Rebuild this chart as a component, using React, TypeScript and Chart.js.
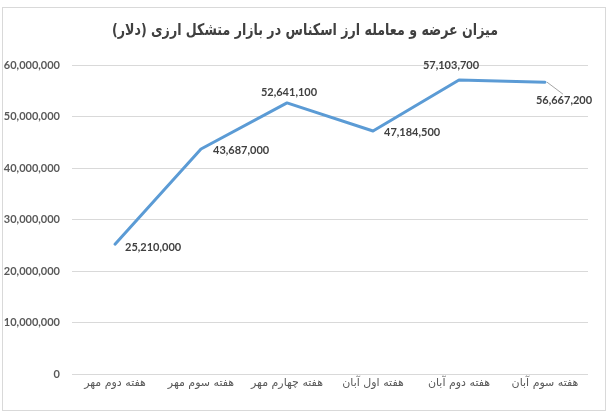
import React, { useEffect, useRef } from "react";
import { Chart, registerables } from "chart.js";

Chart.register(...registerables);

const titleText = "میزان عرضه و معامله ارز اسکناس در بازار متشکل ارزی (دلار)";
const categories = [
  "هفته دوم مهر",
  "هفته سوم مهر",
  "هفته چهارم مهر",
  "هفته اول آبان",
  "هفته دوم آبان",
  "هفته سوم آبان",
];
const values = [25210000, 43687000, 52641100, 47184500, 57103700, 56667200];
const yTicks = [0, 10000000, 20000000, 30000000, 40000000, 50000000, 60000000];

// label placement (style): dx, dy offsets from point, alignment, leader line
const labelPlacement = [
  { dx: 10, dy: 3, align: "left", leader: false },
  { dx: 12, dy: 1, align: "left", leader: false },
  { dx: 2, dy: -10, align: "center", leader: false },
  { dx: 11, dy: 1, align: "left", leader: false },
  { dx: -8, dy: -14, align: "center", leader: false },
  { dx: 19, dy: 18, align: "center", leader: true },
];

const fmt = (v: number) => v.toLocaleString("en-US");
const numFont = "Lato, 'Open Sans', sans-serif";
const faFont = "'DejaVu Sans', sans-serif";

const decor = {
  id: "decor",
  beforeDraw(chart: any) {
    const { ctx } = chart;
    ctx.save();
    ctx.fillStyle = "#ffffff";
    ctx.fillRect(0, 0, chart.width, chart.height);
    ctx.strokeStyle = "#d9d9d9";
    ctx.lineWidth = 1;
    ctx.strokeRect(2.5, 7.5, 603, 403);
    ctx.fillStyle = "#404040";
    ctx.font = `bold 16px ${faFont}`;
    ctx.textAlign = "center";
    ctx.textBaseline = "middle";
    ctx.direction = "rtl";
    ctx.fillText(titleText, 305, 31, 386);
    ctx.restore();
  },
  afterDatasetsDraw(chart: any) {
    const { ctx } = chart;
    const meta = chart.getDatasetMeta(0);
    ctx.save();
    ctx.font = `bold 11px ${numFont}`;
    ctx.fillStyle = "#404040";
    ctx.textBaseline = "middle";
    meta.data.forEach((pt: any, i: number) => {
      const p = labelPlacement[i];
      const x = pt.x + p.dx;
      const y = pt.y + p.dy;
      if (p.leader) {
        ctx.strokeStyle = "#a6a6a6";
        ctx.lineWidth = 1;
        ctx.beginPath();
        ctx.moveTo(pt.x + 2, pt.y);
        ctx.lineTo(pt.x + 18, pt.y + 12);
        ctx.stroke();
      }
      ctx.textAlign = p.align;
      ctx.fillText(fmt(values[i]), x, y);
    });
    ctx.restore();
  },
};

export default function App() {
  const ref = useRef<HTMLCanvasElement>(null);
  useEffect(() => {
    if (!ref.current) return;
    const chart = new Chart(ref.current, {
      type: "line",
      data: {
        labels: categories,
        datasets: [
          {
            data: values,
            borderColor: "#5B9BD5",
            borderWidth: 3,
            pointRadius: 0,
            tension: 0,
            borderCapStyle: "round",
            borderJoinStyle: "round",
          },
        ],
      },
      options: {
        animation: false,
        responsive: false,
        devicePixelRatio: 1,
        layout: { padding: { top: 65, right: 21, bottom: 0, left: 0 } },
        plugins: {
          legend: { display: false },
          title: { display: false },
          tooltip: { enabled: false },
        },
        scales: {
          x: {
            offset: true,
            grid: { display: false, drawTicks: false },
            border: { display: false },
            ticks: {
              color: "#595959",
              font: { family: faFont, size: 11 },
              padding: 3,
              maxRotation: 0,
              autoSkip: false,
            },
            afterFit(scale: any) {
              scale.height = 41;
            },
          },
          y: {
            min: 0,
            max: 60000000,
            afterBuildTicks(scale: any) {
              scale.ticks = yTicks.map((v) => ({ value: v }));
            },
            grid: { color: "#d9d9d9", lineWidth: 1, drawTicks: false },
            border: { display: false },
            ticks: {
              color: "#595959",
              font: { family: numFont, size: 11, weight: "bold" },
              padding: 12,
              callback: (v: any) => fmt(Number(v)),
            },
            afterFit(scale: any) {
              scale.width = 72;
            },
          },
        },
      },
      plugins: [decor],
    } as any);
    return () => chart.destroy();
  }, []);
  return (
    <canvas
      ref={ref}
      width={609}
      height={415}
      style={{ position: "absolute", left: 0, top: 0, width: 609, height: 415 }}
    />
  );
}
